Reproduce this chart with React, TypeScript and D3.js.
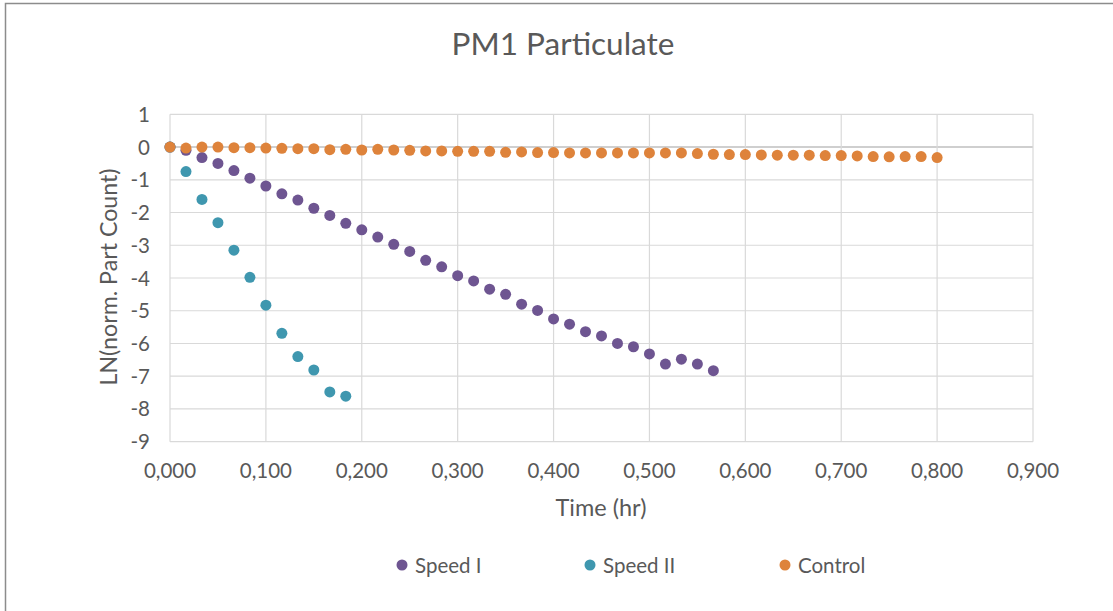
import React from "react";
import * as d3 from "d3";

const title = "PM1 Particulate";
const xTitle = "Time (hr)";
const yTitle = "LN(norm. Part Count)";
const xTicks = [0, 0.1, 0.2, 0.3, 0.4, 0.5, 0.6, 0.7, 0.8, 0.9];
const yTicks = [1, 0, -1, -2, -3, -4, -5, -6, -7, -8, -9];
const seriesNames = ["Speed I", "Speed II", "Control"];
const seriesColors = ["#6E5591", "#3F97AF", "#DE833B"];

// time step: one sample per minute (1/60 hr)
const speedI = [
  0, -0.1, -0.32, -0.5, -0.72, -0.95, -1.19, -1.43, -1.62, -1.87, -2.09, -2.33,
  -2.53, -2.75, -2.97, -3.19, -3.46, -3.66, -3.93, -4.09, -4.34, -4.5, -4.8,
  -4.99, -5.25, -5.41, -5.64, -5.77, -6.0, -6.1, -6.32, -6.63, -6.48, -6.63, -6.83,
];
const speedII = [
  0, -0.75, -1.6, -2.31, -3.15, -3.98, -4.83, -5.69, -6.4, -6.81, -7.48, -7.61,
];
const control = [
  0, -0.03, 0, 0, -0.02, -0.02, -0.03, -0.04, -0.05, -0.05, -0.08, -0.07, -0.09,
  -0.07, -0.09, -0.1, -0.12, -0.12, -0.13, -0.13, -0.13, -0.16, -0.15, -0.17,
  -0.17, -0.18, -0.18, -0.18, -0.18, -0.18, -0.18, -0.18, -0.18, -0.2, -0.22,
  -0.23, -0.23, -0.24, -0.25, -0.25, -0.25, -0.26, -0.26, -0.27, -0.29, -0.3,
  -0.29, -0.29, -0.32,
];
const seriesData = [speedI, speedII, control];

const W = 1113;
const H = 611;
const FONT = "Lato, 'Open Sans', sans-serif";
const TEXT = "#595959";

export default function App() {
  const x = d3.scaleLinear().domain([0, 0.9]).range([170, 1033]);
  const y = d3.scaleLinear().domain([-9, 1]).range([441.7, 114.3]);
  const fmt = (v: number) => d3.format(".3f")(v).replace(".", ",");
  const legendX = [402, 590, 785];

  return (
    <svg
      width={W}
      height={H}
      style={{ position: "fixed", left: 0, top: 0, background: "#fff" }}
      fontFamily={FONT}
    >
      <rect x={0} y={0} width={W} height={H} fill="#fff" />
      <rect x={5.5} y={3.5} width={W + 20} height={H + 20} fill="none" stroke="#8c8c8c" strokeWidth={1.5} />
      <text x={563} y={55} textAnchor="middle" fontSize={31.5} fill={TEXT}>
        {title}
      </text>
      {yTicks.map((t) => (
        <line
          key={"h" + t}
          x1={x(0)}
          x2={x(0.9)}
          y1={y(t)}
          y2={y(t)}
          stroke={t === 0 ? "#bfbfbf" : "#d9d9d9"}
          strokeWidth={t === 0 ? 1.5 : 1.2}
        />
      ))}
      {xTicks.map((t) => (
        <line
          key={"v" + t}
          x1={x(t)}
          x2={x(t)}
          y1={y(1)}
          y2={y(-9)}
          stroke="#d9d9d9"
          strokeWidth={1.2}
        />
      ))}
      {yTicks.map((t) => (
        <text key={"yl" + t} x={150} y={y(t) + 7.5} textAnchor="end" fontSize={20.5} fill={TEXT}>
          {t}
        </text>
      ))}
      {xTicks.map((t) => (
        <text key={"xl" + t} x={x(t)} y={477.5} textAnchor="middle" fontSize={20.5} fill={TEXT}>
          {fmt(t)}
        </text>
      ))}
      <text x={601} y={516} textAnchor="middle" fontSize={23.5} fill={TEXT}>
        {xTitle}
      </text>
      <text
        transform={`translate(117,277) rotate(-90)`}
        textAnchor="middle"
        fontSize={23.2}
        fill={TEXT}
      >
        {yTitle}
      </text>
      {seriesData.map((data, si) => (
        <g key={"s" + si} fill={seriesColors[si]}>
          {data.map((v, i) => (
            <circle key={i} cx={x(i / 60)} cy={y(v)} r={5.5} />
          ))}
        </g>
      ))}
      {seriesNames.map((n, i) => (
        <g key={"lg" + i}>
          <circle cx={legendX[i]} cy={565} r={5.5} fill={seriesColors[i]} />
          <text x={legendX[i] + 13} y={572.5} fontSize={20.5} fill={TEXT}>
            {n}
          </text>
        </g>
      ))}
    </svg>
  );
}
